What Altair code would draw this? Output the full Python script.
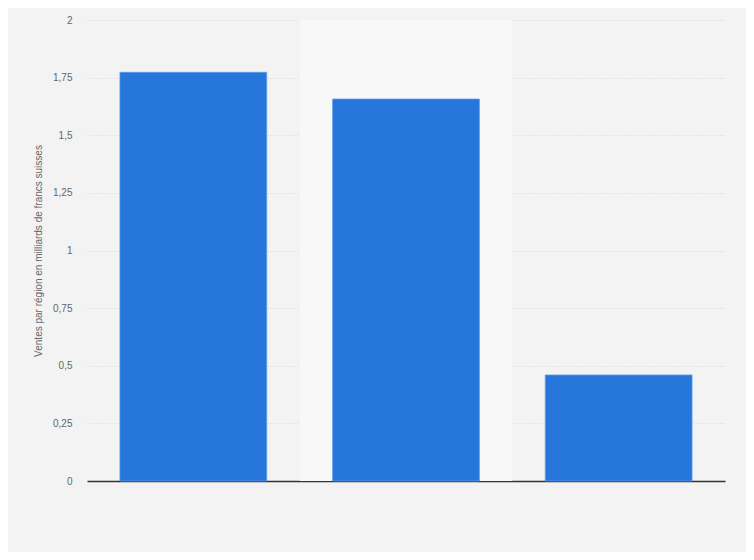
import altair as alt
import pandas as pd

regions = ["Région 1", "Région 2", "Région 3"]
sales = [1.773, 1.657, 0.46]
highlight_region = ["Région 2"]
highlight_top = [2]

bars_df = pd.DataFrame({"region": regions, "ventes": sales})
hl_df = pd.DataFrame({"region": highlight_region, "top": highlight_top})

x_enc = alt.X(
    "region:N",
    sort=regions,
    scale=alt.Scale(paddingInner=0.31, paddingOuter=0.155),
    axis=alt.Axis(
        title=None, labels=False, ticks=False, domain=True,
        domainColor="#333333", domainWidth=1.5, grid=False,
    ),
)

y_scale = alt.Scale(domain=[0, 2], nice=False)

highlight = alt.Chart(hl_df).mark_bar(
    color="#f8f8f8", width=alt.RelativeBandSize(1.45)
).encode(
    x=x_enc,
    y=alt.Y("top:Q", scale=y_scale),
)

bars = alt.Chart(bars_df).mark_bar(
    color="#2676db", stroke="#5b9bea", strokeWidth=0.8
).encode(
    x=x_enc,
    y=alt.Y(
        "ventes:Q",
        scale=y_scale,
        axis=alt.Axis(
            title="Ventes par région en milliards de francs suisses",
            values=[0, 0.25, 0.5, 0.75, 1, 1.25, 1.5, 1.75, 2],
            labelExpr="replace(toString(datum.value), '.', ',')",
            domain=False, ticks=False,
            labelPadding=15, labelFontSize=10, labelColor="#666666",
            labelFont="Liberation Sans",
            titleFont="Liberation Sans", titleFontSize=10,
            titleFontWeight="normal", titleColor="#666666",
            titlePadding=9,
            grid=True, gridColor="#d6d6d6", gridDash=[1, 2], gridWidth=1,
        ),
    ),
)

chart = alt.layer(highlight, bars).properties(
    width=638,
    height=461,
    autosize=alt.AutoSizeParams(type="none"),
    padding={"left": 79, "top": 12, "right": 21, "bottom": 71},
    background="#f3f3f3",
).configure_view(stroke=None, fill="#f3f3f3")

chart.save("out.html", embed_options={"renderer": "svg", "actions": False})
